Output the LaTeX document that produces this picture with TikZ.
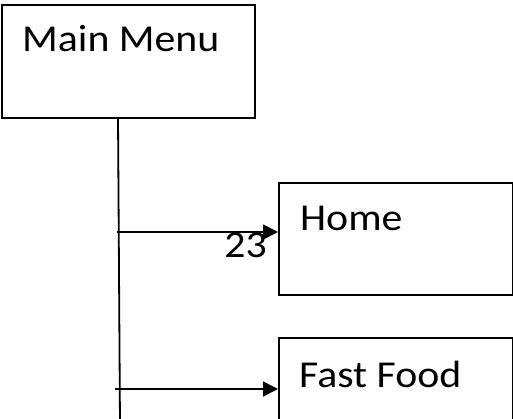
\documentclass[tikz,border=0pt]{standalone}
\usepackage{fontspec}
\setmainfont[FakeStretch = 1.1]{Carlito}
\usetikzlibrary{arrows.meta}
\tikzset{box/.style = {draw, line width = 1.8, inner sep = 0, anchor = north west}}
\tikzset{txt/.style = {anchor = base west, inner sep = 0, font = \fontsize{38}{44}\selectfont}}
\tikzset{arrowline/.style = {line width = 1.8, -{Triangle[length = 15, width = 15]}}}

\begin{document}
\begin{tikzpicture}[x = 1pt, y = -1pt]
    \useasboundingbox (0, 0) rectangle (513, 419);
    \clip (0, 0) rectangle (513, 419);

    \node [box, minimum width = 253, minimum height = 113] (menu) at (1, 4) {};
    \node [box, minimum width = 234, minimum height = 112] (home) at (278, 182) {};
    \node [box, minimum width = 234, minimum height = 112] (food) at (278, 337) {};

    \node [txt] (menutext) at (22, 52) {Main Menu};
    \node [txt] (hometext) at (300, 231) {Home};
    \node [txt] (foodtext) at (299, 387) {Fast Food};
    \node [txt, anchor = base east] (num) at (267, 258) {23};

    \coordinate (trunktop) at (118, 117);
    \coordinate (trunkend) at (120, 425);
    \draw [line width = 1.8] (trunktop) -- (trunkend);

    \coordinate (tohome) at (117, 232);
    \coordinate (tofood) at (115, 389);
    \draw [arrowline] (tohome) -- (tohome -| home.west);
    \draw [arrowline] (tofood) -- (tofood -| food.west);
  \end{tikzpicture}
\end{document}
